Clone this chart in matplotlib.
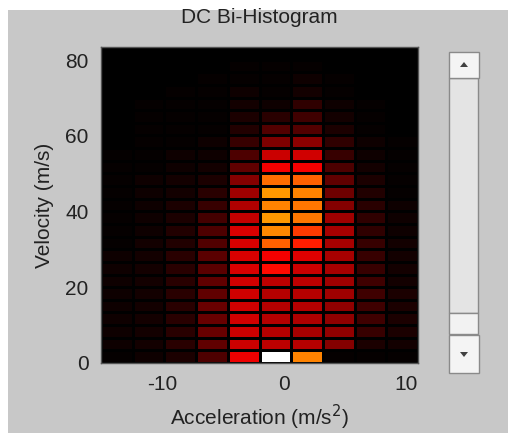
import numpy as np
import matplotlib
matplotlib.use('Agg')
import matplotlib.pyplot as plt
from matplotlib.colors import ListedColormap
from matplotlib.patches import Rectangle, Polygon

plt.rcParams['font.family'] = ['Liberation Sans', 'DejaVu Sans']
plt.rcParams['axes.unicode_minus'] = False

# --- data: counts per acceleration bin (rows = velocity bins, bottom -> top) ---
accel_edges = [-15, -12.4, -9.8, -7.2, -4.6, -2.0, 0.6, 3.2, 5.8, 8.4, 11]
vel_edges = np.linspace(0, 83.5, 26)

acc_bin0 = [1, 2, 2, 2, 2, 2, 2, 2, 2, 1, 1, 1, 1, 1, 1, 1, 1, 0, 0, 0, 0, 0, 0, 0, 0]
acc_bin1 = [2, 3, 3, 3, 3, 3, 3, 3, 3, 3, 2, 2, 2, 2, 2, 1, 1, 1, 1, 1, 1, 0, 0, 0, 0]
acc_bin2 = [4, 6, 6, 6, 6, 6, 6, 6, 6, 5, 5, 4, 4, 3, 3, 2, 2, 1, 1, 1, 1, 1, 0, 0, 0]
acc_bin3 = [11, 14, 15, 15, 15, 14, 14, 13, 13, 12, 11, 10, 8, 6, 4, 3, 2, 2, 1, 1, 1, 1, 1, 0, 0]
acc_bin4 = [34, 29, 29, 30, 30, 30, 30, 31, 31, 31, 31, 28, 25, 23, 19, 14, 11, 8, 5, 4, 3, 2, 1, 1, 0]
acc_bin5 = [100, 27, 26, 26, 26, 26, 27, 38, 35, 51, 57, 59, 56, 59, 53, 35, 29, 18, 12, 6, 2, 1, 1, 1, 0]
acc_bin6 = [56, 26, 24, 25, 26, 26, 27, 29, 32, 41, 45, 54, 54, 56, 51, 35, 30, 20, 12, 9, 7, 3, 2, 1, 0]
acc_bin7 = [1, 19, 21, 21, 21, 23, 23, 24, 24, 24, 24, 23, 19, 16, 14, 11, 8, 7, 4, 3, 2, 1, 1, 0, 0]
acc_bin8 = [1, 4, 8, 9, 9, 9, 9, 8, 8, 8, 7, 7, 6, 5, 4, 3, 2, 2, 1, 1, 1, 0, 0, 0, 0]
acc_bin9 = [1, 3, 4, 4, 4, 4, 3, 3, 3, 3, 2, 2, 2, 1, 1, 1, 1, 1, 0, 0, 0, 0, 0, 0, 0]

counts = np.array([acc_bin0, acc_bin1, acc_bin2, acc_bin3, acc_bin4,
                   acc_bin5, acc_bin6, acc_bin7, acc_bin8, acc_bin9]).T

# 'hot' but starting from pure black
hot = plt.cm.hot(np.linspace(0, 1, 256))
ramp = np.clip(np.linspace(0, 1, 256) / 0.365, 0, 1)
hot[:, 0] = np.where(ramp < 1, ramp, hot[:, 0])
cmap = ListedColormap(hot)

W, H = 508, 433
fig = plt.figure(figsize=(W / 100, H / 100), dpi=100)
fig.patch.set_facecolor('white')
BG = '#c8c8c8'
fig.add_artist(Rectangle((8 / W, 0), 1, 1 - 10 / H, transform=fig.transFigure,
                         facecolor=BG, edgecolor='none', zorder=-10))

def px(x0, y0, x1, y1):
    # pixel box (top-left origin) -> figure fraction rect
    return (x0 / W, 1 - y1 / H), (x1 - x0) / W, (y1 - y0) / H

# --- main histogram axes ---
(l, b), w, h = px(101, 47, 418, 363)
ax = fig.add_axes([l, b, w, h])
ax.pcolormesh(accel_edges, vel_edges, counts, cmap=cmap, vmin=0, vmax=100,
              edgecolors='black', linewidth=0.9)
ax.set_xlim(-15, 11)
ax.set_ylim(0, 83.5)
ax.set_xticks([-10, 0, 10])
ax.set_yticks([0, 20, 40, 60, 80])
ax.tick_params(length=0, labelsize=15, colors='#222222', pad=9)
for s in ax.spines.values():
    s.set_color('#555555')
    s.set_linewidth(1)
ax.set_title('DC Bi-Histogram', fontsize=15, color='#222222', pad=17)
ax.set_xlabel('Acceleration (m/s$^2$)', fontsize=15, color='#222222', labelpad=6)
ax.set_ylabel('Velocity (m/s)', fontsize=15, color='#222222', labelpad=8)

# --- scrollbar widget on the right ---
def box(x0, y0, x1, y1, fc, ec='#8a8a8a', lw=1, z=5):
    xy, ww, hh = px(x0, y0, x1, y1)
    fig.add_artist(Rectangle(xy, ww, hh, transform=fig.transFigure,
                             facecolor=fc, edgecolor=ec, linewidth=lw, zorder=z))

def tri(cx, cy, up=True):
    s = 4
    if up:
        pts = [(cx - s, cy + 2), (cx + s, cy + 2), (cx, cy - 3)]
    else:
        pts = [(cx - s, cy - 2), (cx + s, cy - 2), (cx, cy + 3)]
    pts = [(x / W, 1 - y / H) for x, y in pts]
    fig.add_artist(Polygon(pts, closed=True, transform=fig.transFigure,
                           facecolor='#404040', edgecolor='none', zorder=7))

box(449, 78, 478, 313, '#e4e4e4')
box(449, 313, 478, 334, '#f2f2f2')
box(449, 52, 479, 78, '#f4f4f4')
box(449, 335, 479, 373, '#f4f4f4')
tri(464, 65, up=True)
tri(464, 354, up=False)

fig.savefig('out.png', dpi=100, facecolor=fig.get_facecolor())
